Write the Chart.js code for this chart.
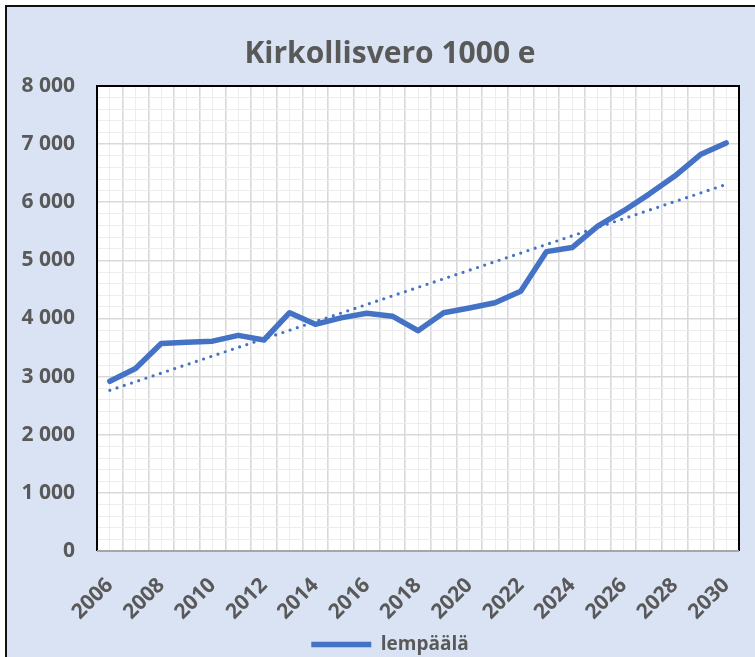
<!DOCTYPE html>
<html>
<head>
<meta charset="utf-8">
<script src="https://cdn.jsdelivr.net/npm/chart.js@4/dist/chart.umd.min.js"></script>
<style>
  html, body { margin: 0; padding: 0; overflow: hidden; background: #fff; }
  #frame {
    position: absolute; left: 5px; top: 5px; width: 800px; height: 700px;
    background: #DAE3F3; border-left: 2px solid #111; border-top: 2px solid #111;
  }
  #wrap { position: absolute; left: 0; top: 0; width: 780px; height: 670px; }
</style>
</head>
<body>
<div id="frame"></div>
<div id="wrap"><canvas id="chart" width="780" height="670"></canvas></div>
<script>
// Data
const years = [2006, 2007, 2008, 2009, 2010, 2011, 2012, 2013, 2014, 2015, 2016, 2017, 2018,
               2019, 2020, 2021, 2022, 2023, 2024, 2025, 2026, 2027, 2028, 2029, 2030];
const lempaala = [2920, 3140, 3570, 3590, 3610, 3710, 3630, 4100, 3900, 4010, 4090, 4040, 3790,
                  4100, 4180, 4270, 4470, 5150, 5220, 5590, 5850, 6140, 6450, 6820, 7020];
// Dotted trend line endpoints (as drawn)
const trendYears = [2006, 2030];
const trendValues = [2765, 6307];

const blue = '#4472C4';
const textGrey = '#595959';

function fmt(v) {
    return String(v).replace(/\B(?=(\d{3})+(?!\d))/g, ' ');
}

// Plot area background + frame (black top/left/right, grey bottom axis)
const plotFrame = {
    id: 'plotFrame',
    beforeDraw(chart) {
        const { ctx, chartArea: a } = chart;
        ctx.save();
        ctx.fillStyle = '#fff';
        ctx.fillRect(a.left, a.top, a.right - a.left, a.bottom - a.top);
        ctx.restore();
    },
    afterDatasetsDraw(chart) {
        const { ctx, chartArea: a } = chart;
        ctx.save();
        ctx.lineWidth = 2;
        ctx.strokeStyle = '#000';
        ctx.beginPath();
        ctx.moveTo(a.left, a.bottom);
        ctx.lineTo(a.left, a.top);
        ctx.lineTo(a.right, a.top);
        ctx.lineTo(a.right, a.bottom);
        ctx.stroke();
        ctx.strokeStyle = '#A6A6A6';
        ctx.beginPath();
        ctx.moveTo(a.left, a.bottom);
        ctx.lineTo(a.right, a.bottom);
        ctx.stroke();
        ctx.restore();
    }
};

Chart.defaults.font.family = "'Open Sans', sans-serif";
Chart.defaults.font.weight = 'bold';
Chart.defaults.color = textGrey;

new Chart(document.getElementById('chart').getContext('2d'), {
    type: 'line',
    data: {
        datasets: [
            {
                label: 'lempäälä',
                data: years.map((y, i) => ({ x: y, y: lempaala[i] })),
                borderColor: blue,
                backgroundColor: blue,
                borderWidth: 5.5,
                borderJoinStyle: 'round',
                borderCapStyle: 'round',
                pointRadius: 0,
                tension: 0
            },
            {
                label: 'trend',
                data: trendYears.map((y, i) => ({ x: y, y: trendValues[i] })),
                borderColor: blue,
                borderWidth: 3.2,
                borderDash: [0, 7.6],
                borderCapStyle: 'round',
                pointRadius: 0
            }
        ]
    },
    options: {
        responsive: false,
        animation: false,
        layout: { padding: { left: 0, right: 0, top: 0, bottom: 6 } },
        plugins: {
            title: {
                display: true,
                text: 'Kirkollisvero 1000 e',
                font: { size: 30, weight: 'bold' },
                color: textGrey,
                padding: { top: 36, bottom: 14 }
            },
            legend: {
                position: 'bottom',
                labels: {
                    filter: item => item.datasetIndex === 0,
                    usePointStyle: true,
                    pointStyle: 'line',
                    pointStyleWidth: 60,
                    font: { size: 19, weight: 'bold' },
                    color: textGrey,
                    padding: 8
                }
            },
            tooltip: { enabled: false }
        },
        scales: {
            x: {
                type: 'linear',
                min: 2005.5,
                max: 2030.5,
                afterFit: s => { s.height = 76; s.paddingRight = 41; s.paddingLeft = 0; },
                ticks: {
                    stepSize: 0.5,
                    autoSkip: false,
                    minRotation: 45,
                    maxRotation: 45,
                    padding: 22,
                    font: { size: 21, weight: 'bold' },
                    callback: v => (Number.isInteger(v) && v % 2 === 0) ? String(v) : ''
                },
                grid: {
                    drawTicks: false,
                    color: c => Number.isInteger(c.tick.value) ? '#EDEDED' : '#D9D9D9',
                    lineWidth: c => Number.isInteger(c.tick.value) ? 1 : 1.6
                },
                border: { display: false }
            },
            y: {
                min: 0,
                max: 8000,
                afterFit: s => { s.width = 97; },
                ticks: {
                    stepSize: 200,
                    autoSkip: false,
                    padding: 22,
                    font: { size: 21, weight: 'bold' },
                    callback: v => (v % 1000 === 0) ? fmt(v) : ''
                },
                grid: {
                    drawTicks: false,
                    color: c => c.tick.value % 1000 === 0 ? '#D9D9D9' : '#EDEDED',
                    lineWidth: c => c.tick.value % 1000 === 0 ? 1.6 : 1
                },
                border: { display: false }
            }
        }
    },
    plugins: [plotFrame]
});
</script>
</body>
</html>
